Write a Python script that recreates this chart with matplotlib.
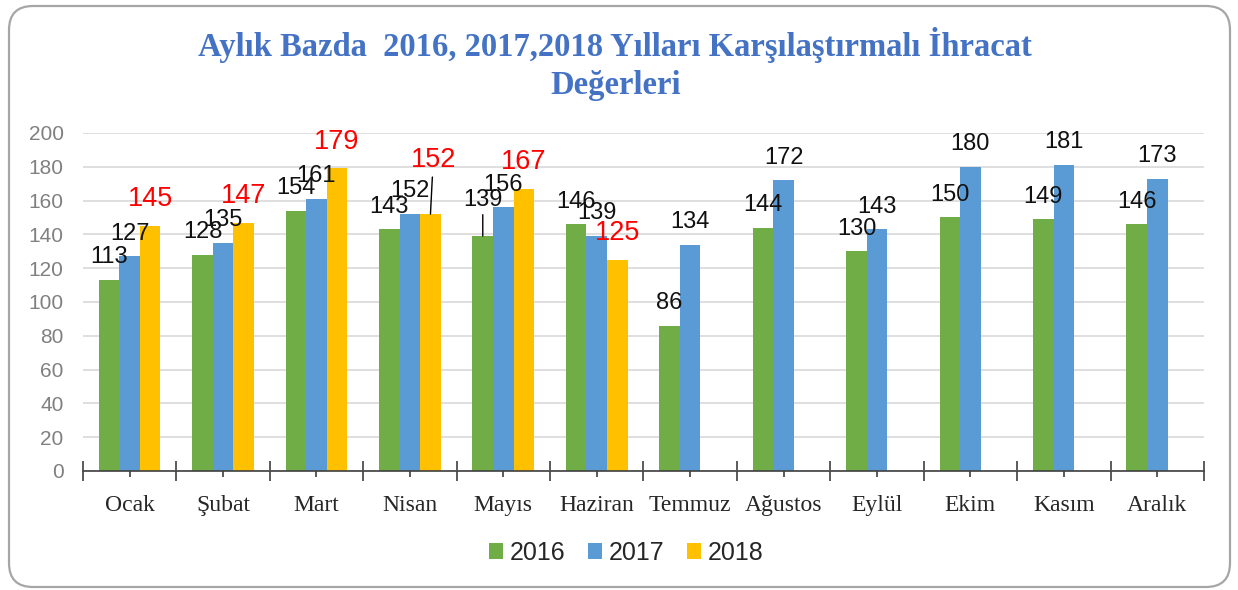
import numpy as np
import matplotlib
matplotlib.use('Agg')
import matplotlib.pyplot as plt
import matplotlib.patches as mpatches
from matplotlib.transforms import IdentityTransform
from matplotlib.ticker import FixedLocator

months = ['Ocak', 'Şubat', 'Mart', 'Nisan', 'Mayıs', 'Haziran', 'Temmuz',
          'Ağustos', 'Eylül', 'Ekim', 'Kasım', 'Aralık']
years = ['2016', '2017', '2018']
v2016 = [113, 128, 154, 143, 139, 146, 86, 144, 130, 150, 149, 146]
v2017 = [127, 135, 161, 152, 156, 139, 134, 172, 143, 180, 181, 173]
v2018 = [145, 147, 179, 152, 167, 125, np.nan, np.nan, np.nan, np.nan, np.nan, np.nan]
y_ticks = [0, 20, 40, 60, 80, 100, 120, 140, 160, 180, 200]
title = 'Aylık Bazda  2016, 2017,2018 Yılları Karşılaştırmalı İhracat\nDeğerleri'

colors = ['#70AD47', '#5B9BD5', '#FFC000']

fig = plt.figure(figsize=(12.38, 5.9), dpi=100)
ax = fig.add_axes([0.067, 0.2017, 0.9055, 0.5729])

x = np.arange(len(months))
w = 0.22
series = [v2016, v2017, v2018]
for k, (vals, col, lab) in enumerate(zip(series, colors, years)):
    ax.bar(x + (k - 1) * w, vals, w, color=col, label=lab, zorder=3)

# data labels (two of them are pushed up with a leader line)
special = {(0, 4): (0, 22), (2, 3): (2, 34)}
for k, vals in enumerate(series):
    for i, v in enumerate(vals):
        if np.isnan(v):
            continue
        xc = x[i] + (k - 1) * w
        if k == 2:
            kw = dict(color='#FF0000', fontsize=19.5)
            off = (0, 14)
        else:
            kw = dict(color='#111111', fontsize=17)
            off = (0, 12)
        extra = {}
        if (k, i) in special:
            off = special[(k, i)]
            extra = dict(arrowprops=dict(arrowstyle='-', color='black', lw=1,
                                         shrinkA=1, shrinkB=0))
        ax.annotate(str(int(v)), (xc, v), xytext=off, textcoords='offset points',
                    ha='center', va='baseline', family='Liberation Sans',
                    annotation_clip=False, zorder=5, **kw, **extra)

ax.set_xlim(-0.5, len(months) - 0.5)
ax.set_ylim(0, 200)
ax.set_yticks(y_ticks)
ax.set_yticklabels([str(t) for t in y_ticks], family='Liberation Sans', fontsize=15,
                   color='#808080')
ax.tick_params(axis='y', length=0, pad=14)
ax.yaxis.grid(True, color='#D9D9D9', lw=1.2, zorder=0)

ax.set_xticks(x)
ax.set_xticklabels(months, family='Liberation Serif', fontsize=17, color='#262626')
ax.xaxis.set_minor_locator(FixedLocator(np.arange(-0.5, len(months), 1.0)))
ax.tick_params(axis='x', which='major', direction='inout', length=9, width=1.2,
               color='#404040', pad=13)
ax.tick_params(axis='x', which='minor', direction='inout', length=15, width=1.2,
               color='#404040')

for s in ['left', 'right', 'top']:
    ax.spines[s].set_visible(False)
ax.spines['bottom'].set_color('#404040')
ax.spines['bottom'].set_linewidth(1.2)
ax.spines['bottom'].set_zorder(4)

fig.text(0.497, 0.955, title, ha='center', va='top', family='Liberation Serif',
         fontweight='bold', fontsize=23.5, color='#4472C4', linespacing=1.3)

leg = fig.legend(loc='center', bbox_to_anchor=(0.506, 0.063), ncol=3, frameon=False,
                 prop={'family': 'Liberation Sans', 'size': 18},
                 handlelength=0.55, handleheight=0.55, handletextpad=0.28,
                 columnspacing=0.9)
for t in leg.get_texts():
    t.set_color('#262626')

border = mpatches.FancyBboxPatch((9, 3), 1221, 581,
                                 boxstyle='round,pad=0,rounding_size=24',
                                 transform=IdentityTransform(), fill=False,
                                 edgecolor='#A6A6A6', lw=1.6)
fig.patches.append(border)

fig.savefig('out.png', dpi=100)
